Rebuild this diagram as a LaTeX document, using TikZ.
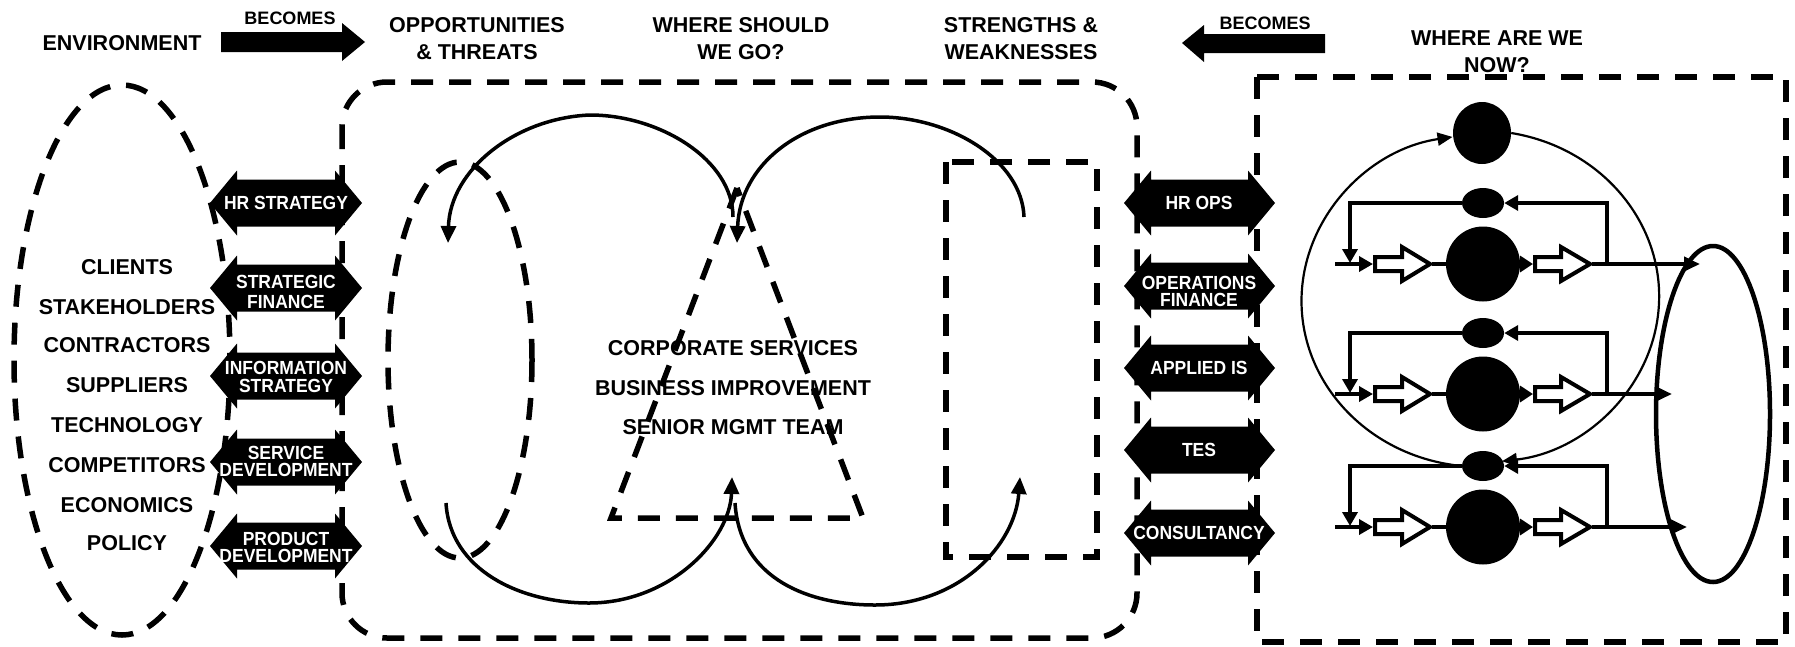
\documentclass[tikz,border=0pt]{standalone}
\usepackage{fontspec}
\setmainfont{Liberation Sans}
\newfontfamily\condfont{Liberation Sans}[FakeStretch=0.92]
\usetikzlibrary{arrows.meta,shapes.geometric}
\newcommand\DArrow[3]{% x1, x2, yc
  \fill ({#1},{#3}) -- ({#1+27},{#3-32.5}) -- ({#1+27},{#3-23.5}) -- ({#2-27},{#3-23.5}) -- ({#2-27},{#3-32.5}) -- ({#2},{#3}) -- ({#2-27},{#3+32.5}) -- ({#2-27},{#3+23.5}) -- ({#1+27},{#3+23.5}) -- ({#1+27},{#3+32.5}) -- cycle;}
\begin{document}
\begin{tikzpicture}[x=1pt,y=-1pt,
  lbl/.style={font=\bfseries\fontsize{21.5}{21.5}\selectfont, text height=15.4pt, text depth=0pt, inner sep=0pt},
  smalllbl/.style={font=\bfseries\fontsize{18}{18}\selectfont, text height=13pt, text depth=0pt, inner sep=0pt},
  wlbl/.style={font=\condfont\bfseries\fontsize{19}{19}\selectfont, text=white, text height=13.6pt, text depth=0pt, inner sep=0pt},
  dsh/.style={line width=5.5pt, dash pattern=on 22pt off 16pt},
  curvearrow/.style={line width=3.5pt, -{Triangle[length=17pt,width=15pt]}},
  conn/.style={line width=4pt},
  tip/.style={-{Triangle[length=14pt,width=15pt]}},
  blk/.style={ellipse, fill=black, inner sep=0pt},
  hol/.style={line width=4pt, fill=white, line join=miter},
  thinarc/.style={line width=2.2pt, -{Triangle[length=15pt,width=13pt]}}
]
\useasboundingbox (0,0) rectangle (1795,646);

% ---------- top labels and block arrows ----------
\node[lbl] (env) at (122,43) {ENVIRONMENT};
\node[smalllbl] (becL) at (290,18) {BECOMES};
\fill (221,32) -- (342,32) -- (342,23) -- (365,42) -- (342,61) -- (342,52) -- (221,52) -- cycle;
\node[lbl] (opp1) at (477,25) {OPPORTUNITIES};
\node[lbl] (opp2) at (477,52) {\& THREATS};
\node[lbl] (wsg1) at (741,25) {WHERE SHOULD};
\node[lbl] (wsg2) at (741,52) {WE GO?};
\node[lbl] (sw1) at (1021,25) {STRENGTHS \&};
\node[lbl] (sw2) at (1021,52) {WEAKNESSES};
\node[smalllbl] (becR) at (1265,23) {BECOMES};
\fill (1325,34) -- (1204,34) -- (1204,25) -- (1182,43) -- (1204,62) -- (1204,53) -- (1325,53) -- cycle;
\node[lbl] (wan1) at (1497,38) {WHERE ARE WE};
\node[lbl] (wan2) at (1497,65) {NOW?};

% ---------- dashed outlines ----------
\draw[dsh] (122,360) ellipse [x radius=108, y radius=275];
\draw[dsh, rounded corners=45pt] (342,82) rectangle (1137,638);
\draw[dsh] (460,360) ellipse [x radius=72, y radius=198];
\draw[dsh] (737,188) -- (611,518) -- (863,518) -- cycle;
\draw[dsh] (946,162) rectangle (1097,557);
\draw[dsh] (1257,77) rectangle (1786,642);

% ---------- left list ----------
\node[lbl] (cl) at (127,267) {CLIENTS};
\node[lbl] (st) at (127,307) {STAKEHOLDERS};
\node[lbl] (co) at (127,345) {CONTRACTORS};
\node[lbl] (su) at (127,385) {SUPPLIERS};
\node[lbl] (te) at (127,425) {TECHNOLOGY};
\node[lbl] (cp) at (127,465) {COMPETITORS};
\node[lbl] (ec) at (127,505) {ECONOMICS};
\node[lbl] (po) at (127,543) {POLICY};

% ---------- left double arrows ----------
\DArrow{210}{362}{203}
\DArrow{210}{362}{288}
\DArrow{210}{362}{376}
\DArrow{210}{362}{462}
\DArrow{210}{362}{546}
\node[wlbl] (hrs) at (286,203) {HR STRATEGY};
\node[wlbl] (sf1) at (286,282) {STRATEGIC};
\node[wlbl] (sf2) at (286,302) {FINANCE};
\node[wlbl] (is1) at (286,368) {INFORMATION};
\node[wlbl] (is2) at (286,386) {STRATEGY};
\node[wlbl] (sd1) at (286,453) {SERVICE};
\node[wlbl] (sd2) at (286,470) {DEVELOPMENT};
\node[wlbl] (pd1) at (286,539) {PRODUCT};
\node[wlbl] (pd2) at (286,556) {DEVELOPMENT};

% ---------- right double arrows ----------
\DArrow{1124}{1275}{203}
\DArrow{1124}{1275}{286}
\DArrow{1124}{1275}{368}
\DArrow{1124}{1275}{450}
\DArrow{1124}{1275}{533}
\node[wlbl] (hro) at (1199,203) {HR OPS};
\node[wlbl] (of1) at (1199,283) {OPERATIONS};
\node[wlbl] (of2) at (1199,300) {FINANCE};
\node[wlbl] (ais) at (1199,368) {APPLIED IS};
\node[wlbl] (tes) at (1199,450) {TES};
\node[wlbl] (cons) at (1199,533) {CONSULTANCY};

% ---------- centre texts ----------
\node[lbl] (cs) at (733,348) {CORPORATE SERVICES};
\node[lbl] (bi) at (733,388) {BUSINESS IMPROVEMENT};
\node[lbl] (smt) at (733,427) {SENIOR MGMT TEAM};

% ---------- curved arrows ----------
\coordinate (a1s) at (733,217);
\coordinate (a1e) at (448,243);
\coordinate (a2s) at (1024,217);
\coordinate (a2e) at (737,243);
\coordinate (a3s) at (446,503);
\coordinate (a3e) at (732,477);
\coordinate (a4s) at (735,503);
\coordinate (a4e) at (1020,477);
\draw[curvearrow] (a1s) .. controls (733,160) and (660,115) .. (590,115) .. controls (515,118) and (450,170) .. (a1e);
\draw[curvearrow] (a2s) .. controls (1022,160) and (950,117) .. (880,117) .. controls (800,117) and (740,165) .. (a2e);
\draw[curvearrow] (a3s) .. controls (450,570) and (520,603) .. (589,603) .. controls (670,603) and (730,540) .. (a3e);
\draw[curvearrow] (a4s) .. controls (740,580) and (810,605) .. (875,605) .. controls (960,605) and (1015,545) .. (a4e);

% ---------- right part ----------
\draw[line width=4.5pt] (1713,414) ellipse [x radius=57, y radius=168];
\node[blk, minimum width=58pt, minimum height=62pt] (top) at (1482,133) {};
\foreach \i/\ys/\yr/\xo in {1/203/264/1700, 2/333/394/1672, 3/466/527/1687}{
  \node[blk, minimum width=42pt, minimum height=30pt] (s\i) at (1483,\ys) {};
  \node[blk, minimum width=74pt, minimum height=75pt] (b\i) at (1483,\yr) {};
  \begin{scope}[shift={(0,\yr)}]
    \coordinate (in\i) at (1335,0);
    \coordinate (h1w\i) at (1373,0);
    \coordinate (h1e\i) at (1432,0);
    \coordinate (h2w\i) at (1533,0);
    \coordinate (h2e\i) at (1592,0);
    \coordinate (fr\i) at (1607,0);
    \coordinate (fl\i) at (1350,-1);
    \coordinate (out\i) at (\xo,0);
    \draw[conn] (h1e\i) -- (b\i.west);
    \draw[conn, -{Triangle[length=13pt,width=16pt]}] (b\i.east) -- (h2w\i);
    \draw[conn, tip] (in\i) -- (h1w\i);
    \draw[conn, -{Triangle[length=16pt,width=14pt]}] (h2e\i) -- (out\i);
    \draw[conn, tip] (fr\i) |- (s\i.east);
    \draw[conn, tip] (s\i.west) -| (fl\i);
    \draw[hol] (1375,-7) -- (1402,-7) -- (1402,-17) -- (1430,0) -- (1402,17) -- (1402,7) -- (1375,7) -- cycle;
    \draw[hol] (1535,-7) -- (1561,-7) -- (1561,-17) -- (1590,0) -- (1561,17) -- (1561,7) -- (1535,7) -- cycle;
  \end{scope}
}
\draw[thinarc] (s3.west) arc[start angle=96, end angle=261, x radius=179, y radius=166];
\draw[thinarc] (top.east) arc[start angle=280, end angle=443, x radius=179, y radius=166];
\end{tikzpicture}
\end{document}
